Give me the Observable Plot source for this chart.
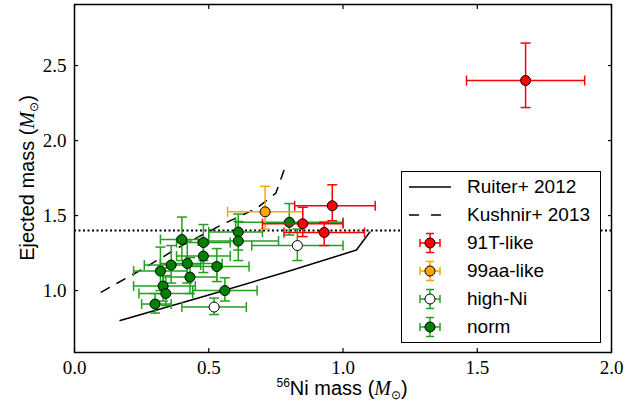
<!DOCTYPE html>
<html>
<head>
<meta charset="utf-8">
<script src="https://cdn.jsdelivr.net/npm/d3@7"></script>
<script src="https://cdn.jsdelivr.net/npm/@observablehq/plot@0.6"></script>
<style>
  html, body { margin: 0; padding: 0; background: white; }
  #wrap { position: relative; width: 632px; height: 403px; overflow: hidden; }
  #wrap svg { display: block; }
  .lbl { position: absolute; font-family: "Liberation Sans", Arial, sans-serif; font-size: 20px; color: black; white-space: nowrap; line-height: 1; }
  .math { font-family: "Liberation Serif", "DejaVu Serif", serif; font-style: italic; }
  .sub { font-size: 12px; position: relative; top: 4px; font-style: normal; }
  .sup { font-size: 12px; position: relative; top: -8px; }
  #legend { position: absolute; left: 401px; top: 171px; width: 198px; height: 170px; border: 1.5px solid black; background: white; }
  .row { position: absolute; left: 0; height: 24px; width: 198px; }
  .row svg { position: absolute; left: 4px; top: 0; }
  .row span { position: absolute; left: 65px; top: 1px; font-family: "Liberation Sans", Arial, sans-serif; font-size: 19px; white-space: nowrap; }
</style>
</head>
<body>
<div id="wrap"></div>
<script>
// ---- data ----
// rows: [x, y, xLow, xHigh, yLow, yHigh]
const normPoints = [
  [0.40, 1.34, 0.32, 0.50, 1.20, 1.49],
  [0.48, 1.32, 0.38, 0.58, 1.20, 1.44],
  [0.61, 1.39, 0.50, 0.70, 1.27, 1.51],
  [0.61, 1.33, 0.46, 0.76, 1.20, 1.46],
  [0.48, 1.23, 0.38, 0.58, 1.12, 1.33],
  [0.42, 1.18, 0.32, 0.55, 1.05, 1.33],
  [0.36, 1.17, 0.26, 0.47, 1.05, 1.30],
  [0.32, 1.13, 0.22, 0.42, 1.00, 1.29],
  [0.53, 1.16, 0.42, 0.65, 1.06, 1.28],
  [0.43, 1.09, 0.33, 0.53, 0.98, 1.22],
  [0.33, 1.03, 0.22, 0.45, 0.93, 1.15],
  [0.34, 0.98, 0.24, 0.44, 0.90, 1.10],
  [0.30, 0.91, 0.25, 0.36, 0.85, 0.98],
  [0.56, 1.00, 0.44, 0.68, 0.93, 1.085],
  [0.80, 1.455, 0.60, 1.00, 1.37, 1.58]
];
const highNiPoints = [
  [0.52, 0.89, 0.40, 0.64, 0.84, 0.95],
  [0.83, 1.30, 0.66, 1.00, 1.20, 1.41]
];
const aa99Points = [
  [0.71, 1.525, 0.57, 0.85, 1.41, 1.695]
];
const t91Points = [
  [1.68, 2.40, 1.46, 1.90, 2.22, 2.65],
  [0.96, 1.565, 0.82, 1.12, 1.465, 1.705],
  [0.85, 1.445, 0.70, 1.00, 1.36, 1.555],
  [0.93, 1.387, 0.78, 1.08, 1.30, 1.455]
];
const ruiterX = [0.17, 0.50, 0.80, 1.05, 1.10];
const ruiterY = [0.80, 0.97, 1.13, 1.27, 1.39];
const kushnirX = [0.10, 0.26, 0.40, 0.55, 0.68, 0.75, 0.78];
const kushnirY = [0.99, 1.15, 1.30, 1.44, 1.55, 1.65, 1.80];
const chandraMass = [1.4];
const xTicks = [0, 0.5, 1.0, 1.5, 2.0];
const yTicks = [1.0, 1.5, 2.0, 2.5];
const seriesNames = ["Ruiter+ 2012", "Kushnir+ 2013", "91T-like", "99aa-like", "high-Ni", "norm"];

// ---- styles ----
const GREEN = "#008000", BAR_GREEN = "#22a022", RED = "#ff0000", ORANGE = "#ffa500";
const capV = {draw(ctx, size) { const r = Math.sqrt(size / Math.PI); ctx.moveTo(0, -r); ctx.lineTo(0, r); }};
const capH = {draw(ctx, size) { const r = Math.sqrt(size / Math.PI); ctx.moveTo(-r, 0); ctx.lineTo(r, 0); }};

function errMarks(rows, barColor, fillColor) {
  const o = {stroke: barColor, strokeWidth: 1.5};
  return [
    Plot.link(rows, {x1: d => d[2], x2: d => d[3], y1: d => d[1], y2: d => d[1], ...o}),
    Plot.link(rows, {x1: d => d[0], x2: d => d[0], y1: d => d[4], y2: d => d[5], ...o}),
    Plot.dot(rows, {x: d => d[2], y: d => d[1], symbol: capV, r: 5, fill: "none", ...o}),
    Plot.dot(rows, {x: d => d[3], y: d => d[1], symbol: capV, r: 5, fill: "none", ...o}),
    Plot.dot(rows, {x: d => d[0], y: d => d[4], symbol: capH, r: 5, fill: "none", ...o}),
    Plot.dot(rows, {x: d => d[0], y: d => d[5], symbol: capH, r: 5, fill: "none", ...o}),
    Plot.dot(rows, {x: d => d[0], y: d => d[1], r: 5, fill: fillColor, stroke: "black", strokeWidth: 1})
  ];
}

const ruiter = ruiterX.map((x, i) => ({x, y: ruiterY[i]}));
const kushnir = kushnirX.map((x, i) => ({x, y: kushnirY[i]}));
const blank = () => "";
const TK = 4;

const chart = Plot.plot({
  width: 632, height: 403,
  marginLeft: 74, marginRight: 21, marginTop: 4, marginBottom: 51,
  x: {domain: [0, 2]},
  y: {domain: [0.587, 2.907]},
  style: {fontFamily: "'Liberation Serif', serif", fontSize: "19px", color: "black", background: "white", overflow: "visible"},
  marks: [
    Plot.ruleY(chandraMass, {stroke: "black", strokeWidth: 2, strokeDasharray: "2,2.5"}),
    Plot.line(ruiter, {x: "x", y: "y", stroke: "black", strokeWidth: 1.5}),
    Plot.line(kushnir, {x: "x", y: "y", stroke: "black", strokeWidth: 1.5, strokeDasharray: "9,9"}),
    ...errMarks(normPoints, BAR_GREEN, GREEN),
    ...errMarks(highNiPoints, BAR_GREEN, "white"),
    ...errMarks(aa99Points, ORANGE, ORANGE),
    ...errMarks(t91Points, RED, RED),
    Plot.frame({stroke: "black", strokeWidth: 1.5}),
    // inward tick marks on all four sides
    Plot.axisX(xTicks, {anchor: "bottom", tickSize: TK, dy: -TK, tickFormat: blank, label: null, strokeWidth: 1.2}),
    Plot.axisX(xTicks, {anchor: "top", tickSize: TK, dy: TK, tickFormat: blank, label: null, strokeWidth: 1.2}),
    Plot.axisY(yTicks, {anchor: "left", tickSize: TK, dx: TK, tickFormat: blank, label: null, strokeWidth: 1.2}),
    Plot.axisY(yTicks, {anchor: "right", tickSize: TK, dx: -TK, tickFormat: blank, label: null, strokeWidth: 1.2}),
    // tick labels
    Plot.axisX(xTicks, {anchor: "bottom", tickSize: 0, tickPadding: 8, tickFormat: d3.format(".1f"), label: null}),
    Plot.axisY(yTicks, {anchor: "left", tickSize: 0, tickPadding: 8, tickFormat: d3.format(".1f"), label: null})
  ]
});

const wrap = document.getElementById("wrap");
wrap.appendChild(chart);

// axis labels
const xl = document.createElement("div");
xl.className = "lbl";
xl.innerHTML = '<span class="sup">56</span>Ni mass (<span class="math">M</span><span class="sub">⊙</span>)';
wrap.appendChild(xl);
xl.style.left = (342 - xl.offsetWidth / 2) + "px";
xl.style.top = "378px";

const yl = document.createElement("div");
yl.className = "lbl";
yl.innerHTML = 'Ejected mass (<span class="math">M</span><span class="sub">⊙</span>)';
wrap.appendChild(yl);
const w = yl.offsetWidth, h = yl.offsetHeight;
yl.style.left = (27 - w / 2) + "px";
yl.style.top = (178 - h / 2) + "px";
yl.style.transform = "rotate(-90deg)";

// legend
const legend = document.createElement("div");
legend.id = "legend";
const rowTops = [3, 31, 59, 87, 115, 143];
const ns = "http://www.w3.org/2000/svg";
function handleSvg(kind, bar, fill) {
  let s = '<svg xmlns="' + ns + '" width="56" height="24">';
  if (kind === "solid") s += '<line x1="3" y1="12" x2="45" y2="12" stroke="black" stroke-width="1.5"/>';
  else if (kind === "dash") s += '<line x1="3" y1="12" x2="45" y2="12" stroke="black" stroke-width="1.5" stroke-dasharray="10,12"/>';
  else {
    s += '<g stroke="' + bar + '" stroke-width="1.5">' +
      '<line x1="14" y1="12" x2="34" y2="12"/><line x1="24" y1="2.5" x2="24" y2="21.5"/>' +
      '<line x1="14" y1="8" x2="14" y2="16"/><line x1="34" y1="8" x2="34" y2="16"/>' +
      '<line x1="20" y1="2.5" x2="28" y2="2.5"/><line x1="20" y1="21.5" x2="28" y2="21.5"/></g>' +
      '<circle cx="24" cy="12" r="5" fill="' + fill + '" stroke="black" stroke-width="1"/>';
  }
  return s + '</svg>';
}
const handles = [
  ["solid"], ["dash"], ["err", RED, RED], ["err", ORANGE, ORANGE], ["err", BAR_GREEN, "white"], ["err", BAR_GREEN, GREEN]
];
seriesNames.forEach((name, i) => {
  const r = document.createElement("div");
  r.className = "row";
  r.style.top = rowTops[i] + "px";
  r.innerHTML = handleSvg(...handles[i]) + '<span></span>';
  r.querySelector("span").textContent = name;
  legend.appendChild(r);
});
wrap.appendChild(legend);
</script>
</body>
</html>
